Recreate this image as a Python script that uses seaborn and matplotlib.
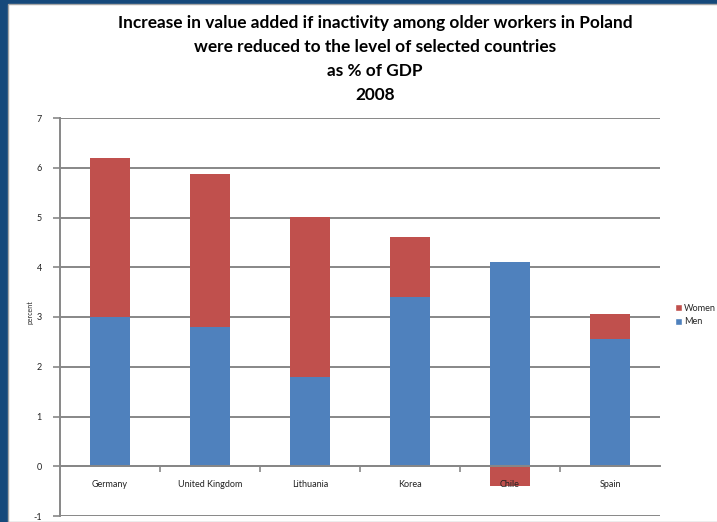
import numpy as np
import pandas as pd
import matplotlib
matplotlib.use("Agg")
import matplotlib.pyplot as plt
from matplotlib.patches import Patch, Rectangle
import seaborn as sns

countries = ["Germany", "United Kingdom", "Lithuania", "Korea", "Chile", "Spain"]
men = [3.0, 2.8, 1.8, 3.4, 4.1, 2.56]
women = [3.2, 3.07, 3.22, 1.2, -0.4, 0.5]

title_lines = [
    "Increase in value added if inactivity among older workers in Poland",
    "were reduced to the level of selected countries",
    "as % of GDP",
    "2008",
]

RED = "#C0504D"
BLUE = "#4F81BD"
GRID = "#878787"

sns.set_theme(style="white")
plt.rcParams["font.family"] = ["Lato", "DejaVu Sans"]

men_a = np.array(men)
women_a = np.array(women)
# women stacked on top of men when positive, below zero when negative
women_top = np.where(women_a > 0, men_a + women_a, women_a)

df = pd.DataFrame({"country": countries, "men": men_a, "women_top": women_top})

fig = plt.figure(figsize=(7.17, 5.22), dpi=100)
fig.patch.set_facecolor("#16497B")
fig.patches.append(Rectangle((8 / 717, 0), 1, 1 - 4 / 522, transform=fig.transFigure,
                             facecolor="white", edgecolor="#A6A6A6", linewidth=1, zorder=-5))

ax = fig.add_axes([60 / 717, 6 / 522, 600 / 717, 398 / 522])
ax.set_facecolor("none")

sns.barplot(data=df, x="country", y="women_top", color=RED, saturation=1, width=0.4,
            ax=ax, zorder=3, linewidth=0)
sns.barplot(data=df, x="country", y="men", color=BLUE, saturation=1, width=0.4,
            ax=ax, zorder=4, linewidth=0)

ax.set_xlim(-0.5, len(countries) - 0.5)
ax.set_ylim(-1, 7)
ax.set_yticks(range(-1, 8))
ax.set_yticklabels([str(v) for v in range(-1, 8)], fontsize=6.5, color="#222222")
ax.yaxis.grid(True, color=GRID, linewidth=1.4, zorder=1)
ax.set_axisbelow(True)

for s in ["top", "right"]:
    ax.spines[s].set_visible(False)
ax.spines["left"].set_color(GRID)
ax.spines["left"].set_linewidth(1.4)
ax.spines["bottom"].set_position(("data", 0))
ax.spines["bottom"].set_color(GRID)
ax.spines["bottom"].set_linewidth(1.4)
ax.spines["bottom"].set_zorder(5)

ax.tick_params(axis="y", which="major", length=5, width=1.2, color=GRID, pad=8, left=True)
ax.set_xticks(range(len(countries)))
ax.set_xticklabels(countries, fontsize=6.5, color="#222222")
ax.tick_params(axis="x", which="major", length=0, pad=10)
ax.set_xticks(np.arange(0.5, len(countries) - 0.5, 1), minor=True)
ax.tick_params(axis="x", which="minor", length=4, width=1.2, color=GRID, bottom=True)
# category names sit on top of any bar that dips below zero
ax.xaxis.set_zorder(6)
ax.set_xlabel("")
ax.set_ylabel("percent", fontsize=5)
ax.yaxis.set_label_coords(-27 / 600, 0.513)

for i, line in enumerate(title_lines):
    fig.text(375 / 717, 1 - (23 + 24 * i) / 522, line, ha="center", va="center",
             fontsize=12.4, fontweight="bold", color="black")

handles = [Patch(facecolor=RED, label="Women"), Patch(facecolor=BLUE, label="Men")]
fig.legend(handles=handles, loc="center left", bbox_to_anchor=(670 / 717, 1 - 315 / 522),
           frameon=False, fontsize=6.6, handlelength=0.8, handleheight=0.8,
           handletextpad=0.25, labelspacing=0.5, borderpad=0)

fig.savefig("out.png", dpi=100)
